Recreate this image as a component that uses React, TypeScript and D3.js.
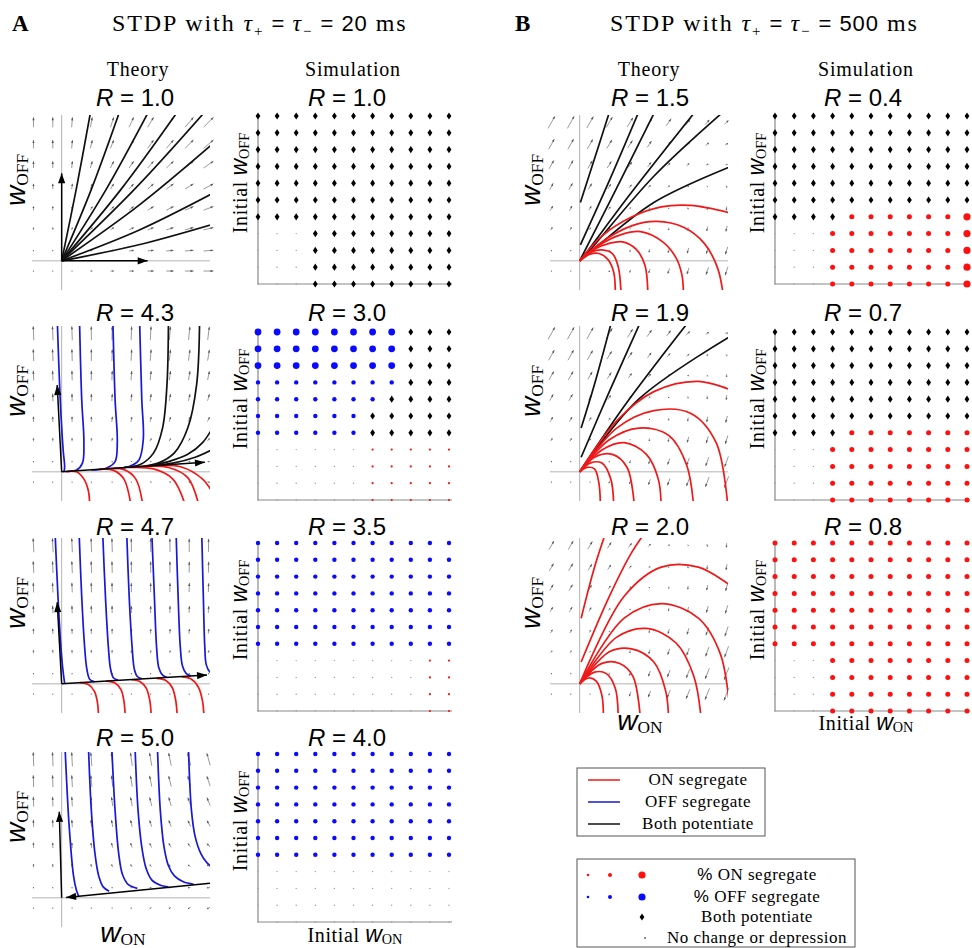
import React from 'react'
import * as d3 from 'd3'

const SERIF = '"Liberation Serif", "DejaVu Serif", serif'
const SANS = '"Liberation Sans", Arial, sans-serif'

// R values shown above each panel
const theoryRA = ['1.0', '4.3', '4.7', '5.0']
const simRA = ['1.0', '3.0', '3.5', '4.0']
const theoryRB = ['1.5', '1.9', '2.0']
const simRB = ['0.4', '0.7', '0.8']

// linear field dw/dt = [[a,b],[c,d]] w used for the small quiver arrows
const fieldA = [
  [1, 0, 0, 1.05],
  [0.153, -0.042, -0.057, 0.997],
  [0.053, -0.048, -0.057, 1.0],
  [-0.197, -0.036, -0.12, 1.0],
]
const fieldB = [
  [-0.2, 0.5, -0.6, 0.9],
  [-0.3, 0.5, -0.8, 0.9],
  [-0.4, 0.4, -1.0, 0.7],
]

// eigenvector arrows [x0, y0, x1, y1], head at (x1, y1)
const eigenA = [
  [[0, 0, 0.58, 0], [0, 0, 0, 0.6]],
  [[0, 0, 0.966, 0.065], [0, 0, -0.03, 0.595]],
  [[0, 0, 0.98, 0.06], [0, 0, -0.03, 0.56]],
  [[1.0, 0.1, 0.03, 0.003], [0, 0, -0.016, 0.59]],
]

type Traj = [string, number[][]]

// trajectories, [colour, [[wON, wOFF], ...]]
const trajA1: Traj[] = [
  ['k', [[0, 0], [0.1, 0.5], [0.2, 1.05]]],
  ['k', [[0, 0], [0.2, 0.49], [0.4, 1.05]]],
  ['k', [[0, 0], [0.3, 0.49], [0.6, 1.05]]],
  ['k', [[0, 0], [0.4, 0.49], [0.8, 1.05]]],
  ['k', [[0, 0], [0.5, 0.5], [0.99, 1.05]]],
  ['k', [[0, 0], [0.52, 0.38], [1.05, 0.83]]],
  ['k', [[0, 0], [0.52, 0.21], [1.05, 0.48]]],
  ['k', [[0, 0], [0.52, 0.11], [1.05, 0.26]]],
]
const trajA2: Traj[] = [
  ['b', [[-0.03, 1.05], [-0.01, 0.5], [0.01, 0.15], [0.02, 0.03], [0.015, 0.001]]],
  ['b', [[0.12, 1.05], [0.135, 0.5], [0.15, 0.2], [0.14, 0.06], [0.1, 0.012], [0.04, 0.003]]],
  ['b', [[0.345, 1.05], [0.36, 0.5], [0.375, 0.2], [0.36, 0.07], [0.3, 0.025], [0.2, 0.013]]],
  ['b', [[0.525, 1.05], [0.54, 0.5], [0.55, 0.22], [0.52, 0.08], [0.45, 0.035], [0.35, 0.023]]],
  ['k', [[0.72, 1.05], [0.71, 0.6], [0.68, 0.3], [0.62, 0.13], [0.53, 0.05], [0.42, 0.03]]],
  ['k', [[0.93, 1.05], [0.91, 0.6], [0.85, 0.3], [0.76, 0.13], [0.65, 0.06], [0.52, 0.035]]],
  ['k', [[1.05, 0.36], [0.95, 0.2], [0.85, 0.12], [0.72, 0.07], [0.6, 0.045]]],
  ['k', [[1.05, 0.17], [0.9, 0.1], [0.75, 0.06], [0.62, 0.045]]],
  ['r', [[0.03, 0.002], [0.1, 0.0], [0.15, -0.05], [0.18, -0.13], [0.19, -0.25]]],
  ['r', [[0.25, 0.017], [0.35, 0.01], [0.42, -0.05], [0.47, -0.25]]],
  ['r', [[0.3, 0.02], [0.42, 0.015], [0.5, -0.05], [0.55, -0.25]]],
  ['r', [[0.45, 0.03], [0.62, 0.02], [0.75, -0.05], [0.84, -0.25]]],
  ['r', [[0.55, 0.037], [0.72, 0.03], [0.85, -0.04], [0.93, -0.25]]],
  ['r', [[0.6, 0.04], [0.8, 0.035], [0.95, -0.05], [1.05, -0.2]]],
]
const trajA3: Traj[] = [
  ['b', [[-0.045, 1.05], [-0.025, 0.6], [-0.005, 0.25], [0.01, 0.08], [0.02, 0.005]]],
  ['b', [[0.117, 1.05], [0.135, 0.6], [0.155, 0.25], [0.17, 0.1], [0.19, 0.03], [0.22, 0.015]]],
  ['b', [[0.276, 1.05], [0.295, 0.6], [0.315, 0.25], [0.33, 0.1], [0.35, 0.04], [0.38, 0.025]]],
  ['b', [[0.438, 1.05], [0.455, 0.6], [0.475, 0.25], [0.49, 0.1], [0.51, 0.05], [0.54, 0.035]]],
  ['b', [[0.607, 1.05], [0.625, 0.6], [0.64, 0.25], [0.655, 0.11], [0.68, 0.06], [0.71, 0.045]]],
  ['b', [[0.771, 1.05], [0.785, 0.6], [0.8, 0.25], [0.815, 0.12], [0.84, 0.07], [0.87, 0.055]]],
  ['b', [[0.944, 1.05], [0.955, 0.6], [0.965, 0.25], [0.975, 0.13], [1.0, 0.08], [1.03, 0.066]]],
  ['r', [[0.12, 0.008], [0.18, -0.005], [0.22, -0.05], [0.24, -0.12], [0.25, -0.25]]],
  ['r', [[0.3, 0.018], [0.36, 0.005], [0.4, -0.04], [0.42, -0.12], [0.43, -0.25]]],
  ['r', [[0.47, 0.028], [0.53, 0.015], [0.57, -0.03], [0.595, -0.12], [0.605, -0.25]]],
  ['r', [[0.64, 0.038], [0.7, 0.025], [0.745, -0.025], [0.77, -0.12], [0.78, -0.25]]],
  ['r', [[0.81, 0.048], [0.87, 0.035], [0.92, -0.02], [0.95, -0.12], [0.96, -0.25]]],
]
const trajA4: Traj[] = [
  ['b', [[0.022, 1.05], [0.05, 0.5], [0.08, 0.15], [0.1, 0.05], [0.115, 0.012]]],
  ['b', [[0.18, 1.05], [0.2, 0.6], [0.225, 0.3], [0.25, 0.15], [0.28, 0.075], [0.32, 0.045]]],
  ['b', [[0.337, 1.05], [0.36, 0.6], [0.385, 0.3], [0.41, 0.16], [0.45, 0.09], [0.51, 0.065]]],
  ['b', [[0.494, 1.05], [0.515, 0.6], [0.54, 0.35], [0.57, 0.2], [0.61, 0.12], [0.67, 0.085], [0.72, 0.076]]],
  ['b', [[0.645, 1.05], [0.665, 0.6], [0.69, 0.35], [0.72, 0.22], [0.76, 0.15], [0.82, 0.11], [0.89, 0.093]]],
  ['b', [[0.854, 1.05], [0.875, 0.6], [0.9, 0.42], [0.94, 0.3], [0.98, 0.24], [1.03, 0.2]]],
]
const trajB1: Traj[] = [
  ['k', [[0.005, 0.4], [0.1, 0.7], [0.21, 1.05]]],
  ['k', [[0.005, 0.11], [0.2, 0.55], [0.41, 1.05]]],
  ['k', [[0, 0], [0.25, 0.5], [0.52, 1.05]]],
  ['k', [[0, 0], [0.04, 0.05], [0.35, 0.47], [0.8, 1.05]]],
  ['k', [[0, 0], [0.05, 0.05], [0.5, 0.58], [1.0, 1.05]]],
  ['k', [[0, 0], [0.05, 0.04], [0.5, 0.4], [1.05, 0.66]]],
  ['r', [[0, 0], [0.15, 0.17], [0.35, 0.3], [0.55, 0.37], [0.75, 0.38], [1.05, 0.32]]],
  ['r', [[0, 0], [0.15, 0.13], [0.35, 0.24], [0.52, 0.27], [0.7, 0.23], [0.84, 0.12], [0.93, -0.05], [0.97, -0.25]]],
  ['r', [[0, 0], [0.12, 0.1], [0.28, 0.18], [0.41, 0.2], [0.56, 0.13], [0.65, 0.02], [0.69, -0.1], [0.7, -0.25]]],
  ['r', [[0, 0], [0.1, 0.08], [0.2, 0.12], [0.29, 0.13], [0.38, 0.08], [0.44, -0.03], [0.46, -0.25]]],
  ['r', [[0, 0], [0.08, 0.06], [0.15, 0.075], [0.22, 0.05], [0.26, -0.04], [0.28, -0.25]]],
  ['r', [[0, 0], [0.07, 0.045], [0.13, 0.05], [0.19, 0.01], [0.23, -0.08], [0.24, -0.25]]],
]
const trajB2: Traj[] = [
  ['k', [[0.01, 0.3], [0.1, 0.6], [0.22, 1.05]]],
  ['k', [[0.01, 0.1], [0.2, 0.55], [0.42, 1.05]]],
  ['k', [[0, 0], [0.3, 0.45], [0.75, 1.05]]],
  ['k', [[0, 0], [0.4, 0.5], [1.05, 0.95]]],
  ['r', [[0, 0], [0.25, 0.35], [0.5, 0.55], [0.8, 0.62], [1.05, 0.55]]],
  ['r', [[0, 0], [0.25, 0.3], [0.5, 0.42], [0.75, 0.4], [0.92, 0.2], [1.0, -0.25]]],
  ['r', [[0, 0], [0.2, 0.22], [0.4, 0.3], [0.6, 0.25], [0.72, 0.05], [0.77, -0.25]]],
  ['r', [[0, 0], [0.15, 0.15], [0.3, 0.2], [0.45, 0.12], [0.53, -0.05], [0.55, -0.25]]],
  ['r', [[0, 0], [0.1, 0.1], [0.22, 0.12], [0.32, 0.03], [0.37, -0.25]]],
  ['r', [[0, 0], [0.07, 0.06], [0.15, 0.06], [0.21, -0.05], [0.23, -0.25]]],
  ['r', [[0, 0], [0.05, 0.03], [0.1, 0.02], [0.13, -0.08], [0.14, -0.25]]],
]
const trajB3: Traj[] = [
  ['r', [[0.01, 0.45], [0.1, 0.8], [0.18, 1.05]]],
  ['r', [[0.01, 0.15], [0.2, 0.6], [0.35, 0.9], [0.45, 1.05]]],
  ['r', [[0, 0], [0.3, 0.6], [0.55, 0.8], [0.8, 0.8], [1.05, 0.65]]],
  ['r', [[0, 0], [0.3, 0.45], [0.55, 0.55], [0.8, 0.45], [0.95, 0.2], [1.02, -0.25]]],
  ['r', [[0, 0], [0.25, 0.32], [0.45, 0.38], [0.65, 0.28], [0.77, 0.05], [0.82, -0.25]]],
  ['r', [[0, 0], [0.2, 0.22], [0.35, 0.24], [0.5, 0.15], [0.58, -0.05], [0.6, -0.25]]],
  ['r', [[0, 0], [0.15, 0.14], [0.27, 0.14], [0.36, 0.05], [0.41, -0.25]]],
  ['r', [[0, 0], [0.1, 0.08], [0.18, 0.07], [0.24, -0.03], [0.26, -0.25]]],
  ['r', [[0, 0], [0.06, 0.04], [0.11, 0.02], [0.15, -0.08], [0.16, -0.25]]],
]

// simulation outcomes on the 11 x 11 grid of initial weights, top row first
// k both potentiate, B/b blue large/medium, R/r/s red large/medium/small, . no change
const simA1 = ['kkkkkkkkkkk', 'kkkkkkkkkkk', 'kkkkkkkkkkk', 'kkkkkkkkkkk', 'kkkkkkkkkkk', 'kkkkkkkkkkk', 'kkkkkkkkkkk', '...kkkkkkkk', '...kkkkkkkk', '...kkkkkkkk', '...kkkkkkkk']
const simA2 = ['BBBBBBBBkkk', 'BBBBBBBBkkk', 'BBBBBBBBkkk', 'bbbbbbbbkkk', 'bbbbbbbkkkk', 'bbbbbbkkkkk', 'bbbbbbkkkkk', '......sssss', '......sssss', '......sssss', '......sssss']
const simA3 = ['bbbbbbbbbbb', 'bbbbbbbbbbb', 'bbbbbbbbbbb', 'bbbbbbbbbbb', 'bbbbbbbbbbb', 'bbbbbbbbbbb', 'bbbbbbbbbbb', '.........ss', '.........ss', '.........ss', '.........ss']
const simA4 = ['bbbbbbbbbbb', 'bbbbbbbbbbb', 'bbbbbbbbbbb', 'bbbbbbbbbbb', 'bbbbbbbbbbb', 'bbbbbbbbbbb', 'bbbbbbbbbbb', '...........', '...........', '...........', '...........']
const simB1 = ['kkkkkkkkkkk', 'kkkkkkkkkkk', 'kkkkkkkkkkk', 'kkkkkkkkkkk', 'kkkkkkkkkkk', 'kkkkkkkkkkk', 'kkkkrrrrrrR', '...rrrrrrrR', '...rrrrrrrR', '...rrrrrrrR', '...rrrrrrrR']
const simB2 = ['kkkkkkkkkkk', 'kkkkkkkkkkk', 'kkkkkkkkkkk', 'kkkkkkkkkkk', 'kkkkkkkkkkk', 'kkkkkkkkkkk', 'kkkkrrrrrrr', '...rrrrrrrr', '...rrrrrrrr', '...rrrrrrrr', '...rrrrrrrr']
const simB3 = ['rrrrrrrrrrr', 'rrrrrrrrrrr', 'rrrrrrrrrrr', 'rrrrrrrrrrr', 'rrrrrrrrrrr', 'rrrrrrrrrrr', 'rrrrrrrrrrr', '...rrrrrrrr', '...rrrrrrrr', '...rrrrrrrr', '...rrrrrrrr']

const legendLines = ['ON segregate', 'OFF segregate', 'Both potentiate']

const COL: Record<string, string> = { k: '#111', b: '#1818d8', r: '#f01818' }
const PW = 178
const PH = 175
const qx = [-0.19, -0.06, 0.07, 0.2, 0.34, 0.47, 0.6, 0.73, 0.86, 0.99]
const qy = [-0.07, 0.07, 0.22, 0.36, 0.51, 0.66, 0.8, 0.95]

const rows = [
  { label: 106, theory: 115, sim: 116 },
  { label: 321, theory: 326, sim: 332 },
  { label: 535, theory: 538, sim: 543 },
  { label: 746, theory: 752, sim: 754 },
]

function head(x1: number, y1: number, x2: number, y2: number, hl: number, hw: number) {
  const dx = x2 - x1, dy = y2 - y1, L = Math.hypot(dx, dy)
  if (L < 0.01) return ''
  const ux = dx / L, uy = dy / L
  const bx = x2 - ux * hl, by = y2 - uy * hl
  return `M${x2},${y2}L${bx - uy * hw},${by + ux * hw}L${bx + uy * hw},${by - ux * hw}Z`
}

function Subscripted({ main, sub, size }: { main: string; sub: string; size: number }) {
  return (
    <>
      <tspan fontFamily={SANS} fontStyle="italic" fontSize={size}>{main}</tspan>
      <tspan fontFamily={SERIF} fontSize={size * 0.62} dy={size * 0.1}>{sub}</tspan>
    </>
  )
}

function TheoryPanel({ id, x0, top, labelX, field, eigen, traj }: { id: string; x0: number; top: number; labelX: number; field: number[]; eigen: number[][]; traj: Traj[] }) {
  const x = d3.scaleLinear([-0.2, 1], [x0, x0 + PW])
  const y = d3.scaleLinear([-0.2, 1], [top + PH, top])
  const line = d3.line<number[]>().x(d => x(d[0])).y(d => y(d[1])).curve(d3.curveCatmullRom.alpha(0.5))
  const [a, b, c, d] = field
  // weights below zero are clamped when the drift is evaluated
  const vecs = qx.flatMap(gx => qy.map(gy => {
    const px = Math.max(gx, 0), py = Math.max(gy, 0)
    return { gx, gy, u: a * px + b * py, v: c * px + d * py }
  }))
  const maxM = d3.max(vecs, q => Math.hypot(q.u, q.v)) || 1
  const k = 14 / maxM
  return (
    <g>
      <defs>
        <clipPath id={id}><rect x={x0} y={top} width={PW} height={PH} /></clipPath>
      </defs>
      <line x1={x(0)} x2={x(0)} y1={top} y2={top + PH} stroke="#b4b4b4" strokeWidth={1} />
      <line x1={x0} x2={x0 + PW} y1={y(0)} y2={y(0)} stroke="#b4b4b4" strokeWidth={1} />
      <g stroke="#555" fill="#555">
        {vecs.map((q, i) => {
          const cx = x(q.gx), cy = y(q.gy)
          const du = q.u * k, dv = -q.v * k
          const L = Math.hypot(du, dv)
          const x1 = cx - du / 2, y1 = cy - dv / 2, x2 = cx + du / 2, y2 = cy + dv / 2
          return (
            <g key={i}>
              {L < 1.2 ? <circle cx={cx} cy={cy} r={0.6} stroke="none" /> : (
                <>
                  <line x1={x1} y1={y1} x2={x2} y2={y2} strokeWidth={0.6} />
                  <path d={head(x1, y1, x2, y2, Math.min(3, L * 0.4), 1.1)} stroke="none" />
                </>
              )}
            </g>
          )
        })}
      </g>
      <g clipPath={`url(#${id})`} fill="none" strokeWidth={1.7}>
        {traj.map((t, i) => <path key={i} d={line(t[1]) || ''} stroke={COL[t[0]]} />)}
      </g>
      {eigen.map((e, i) => {
        const x1 = x(e[0]), y1 = y(e[1]), x2 = x(e[2]), y2 = y(e[3])
        return (
          <g key={i}>
            <line x1={x1} y1={y1} x2={x2} y2={y2} stroke="#000" strokeWidth={1.5} />
            <path d={head(x1, y1, x2, y2, 10, 3.6)} fill="#000" />
          </g>
        )
      })}
      <text transform={`translate(${labelX},${top + 65}) rotate(-90)`} textAnchor="middle">
        <Subscripted main="w" sub="OFF" size={28} />
      </text>
    </g>
  )
}

function Dot({ code, cx, cy }: { code: string; cx: number; cy: number }) {
  if (code === 'k') return <path d={`M${cx},${cy - 3.6}L${cx + 2.4},${cy}L${cx},${cy + 3.6}L${cx - 2.4},${cy}Z`} fill="#000" />
  if (code === '.') return <circle cx={cx} cy={cy} r={0.7} fill="#999" />
  const r = { B: 3.4, b: 2.2, R: 3.6, r: 2.5, s: 1.1 }[code] || 1
  const fill = code === 'B' || code === 'b' ? '#0a0aff' : '#ff1010'
  return <circle cx={cx} cy={cy} r={r} fill={fill} />
}

function SimPanel({ x0, top, dx, grid }: { x0: number; top: number; dx: number; grid: string[] }) {
  const x = d3.scaleLinear([0, 10], [x0, x0 + 10 * dx])
  const y = d3.scaleLinear([0, 10], [top, top + 10 * 16.8])
  return (
    <g>
      <path d={`M${x(0)},${y(0) - 2}V${y(10)}H${x(10) + 3}`} fill="none" stroke="#8a8a8a" strokeWidth={1.2} />
      {grid.map((row, j) => row.split('').map((code, i) => <Dot key={`${j}-${i}`} code={code} cx={x(i)} cy={y(j)} />))}
      <text transform={`translate(${x0 - 11},${top + 67}) rotate(-90)`} textAnchor="middle">
        <tspan fontFamily={SERIF} fontSize={20} letterSpacing={0.6}>Initial </tspan>
        <Subscripted main="w" sub="OFF" size={23} />
      </text>
    </g>
  )
}

function RLabel({ cx, y, value }: { cx: number; y: number; value: string }) {
  return (
    <text x={cx} y={y} textAnchor="middle" fontFamily={SANS} fontSize={24}>
      <tspan fontStyle="italic">R</tspan> = {value}
    </text>
  )
}

function Title({ x, letter, lx, ms }: { x: number; letter: string; lx: number; ms: string }) {
  return (
    <>
      <text x={lx} y={31} fontFamily={SERIF} fontWeight="bold" fontSize={23}>{letter}</text>
      <text x={x} y={31} fontFamily={SERIF} fontSize={24} letterSpacing={1.9}>
        STDP with <tspan fontStyle="italic">τ</tspan>
        <tspan fontSize={15} dy={5}>+</tspan>
        <tspan fontFamily={SANS} fontSize={22} dy={-5} letterSpacing={1}> = </tspan>
        <tspan fontStyle="italic">τ</tspan>
        <tspan fontSize={15} dy={5}>−</tspan>
        <tspan fontFamily={SANS} fontSize={22} dy={-5} letterSpacing={1}> = {ms}</tspan> ms
      </text>
    </>
  )
}

export default function App() {
  const theoryA = [trajA1, trajA2, trajA3, trajA4]
  const theoryB = [trajB1, trajB2, trajB3]
  const simA = [simA1, simA2, simA3, simA4]
  const simB = [simB1, simB2, simB3]
  return (
    <svg width={972} height={948} style={{ position: 'absolute', left: 0, top: 0, background: '#fff' }}>
      <Title letter="A" lx={12} x={112} ms="20" />
      <Title letter="B" lx={515} x={610} ms="500" />
      <g fontFamily={SERIF} fontSize={20} textAnchor="middle" letterSpacing={0.8}>
        <text x={138} y={76}>Theory</text>
        <text x={353} y={76}>Simulation</text>
        <text x={649} y={76}>Theory</text>
        <text x={866} y={76}>Simulation</text>
      </g>
      {theoryA.map((t, i) => (
        <g key={`ta${i}`}>
          <RLabel cx={135} y={rows[i].label} value={theoryRA[i]} />
          <TheoryPanel id={`clipA${i}`} x0={32} top={rows[i].theory} labelX={25} field={fieldA[i]} eigen={eigenA[i]} traj={t} />
        </g>
      ))}
      {simA.map((g, i) => (
        <g key={`sa${i}`}>
          <RLabel cx={347} y={rows[i].label} value={simRA[i]} />
          <SimPanel x0={258} top={rows[i].sim} dx={19.1} grid={g} />
        </g>
      ))}
      {theoryB.map((t, i) => (
        <g key={`tb${i}`}>
          <RLabel cx={650} y={rows[i].label} value={theoryRB[i]} />
          <TheoryPanel id={`clipB${i}`} x0={550} top={rows[i].theory} labelX={540} field={fieldB[i]} eigen={[]} traj={t} />
        </g>
      ))}
      {simB.map((g, i) => (
        <g key={`sb${i}`}>
          <RLabel cx={863} y={rows[i].label} value={simRB[i]} />
          <SimPanel x0={775} top={rows[i].sim} dx={19.2} grid={g} />
        </g>
      ))}
      <text x={123} y={942} textAnchor="middle"><Subscripted main="w" sub="ON" size={28} /></text>
      <text x={355} y={942} textAnchor="middle">
        <tspan fontFamily={SERIF} fontSize={20} letterSpacing={0.6}>Initial </tspan><Subscripted main="w" sub="ON" size={23} />
      </text>
      <text x={640} y={730} textAnchor="middle"><Subscripted main="w" sub="ON" size={28} /></text>
      <text x={866} y={730} textAnchor="middle">
        <tspan fontFamily={SERIF} fontSize={20} letterSpacing={0.6}>Initial </tspan><Subscripted main="w" sub="ON" size={23} />
      </text>

      <rect x={577} y={768} width={188} height={68} fill="none" stroke="#555" strokeWidth={1} />
      {legendLines.map((t, i) => (
        <g key={t}>
          <line x1={588} x2={620} y1={780 + i * 22} y2={780 + i * 22} stroke={[COL.r, COL.b, COL.k][i]} strokeWidth={1.5} />
          <text x={698} y={785 + i * 22} textAnchor="middle" fontFamily={SERIF} fontSize={17} letterSpacing={0.5}>{t}</text>
        </g>
      ))}
      <rect x={577} y={859} width={278} height={88} fill="none" stroke="#555" strokeWidth={1} />
      <circle cx={588} cy={875} r={1.3} fill="#ff1010" />
      <circle cx={610} cy={875} r={2} fill="#ff1010" />
      <circle cx={642} cy={875} r={3.6} fill="#ff1010" />
      <circle cx={588} cy={897} r={1.3} fill="#0a0aff" />
      <circle cx={610} cy={897} r={2} fill="#0a0aff" />
      <circle cx={642} cy={897} r={3.6} fill="#0a0aff" />
      <Dot code="k" cx={642} cy={917} />
      <circle cx={645} cy={938} r={0.9} fill="#555" />
      <g fontFamily={SERIF} fontSize={17} textAnchor="middle" letterSpacing={0.5}>
        <text x={757} y={880}><tspan fontFamily={SANS}>%</tspan> ON segregate</text>
        <text x={757} y={902}><tspan fontFamily={SANS}>%</tspan> OFF segregate</text>
        <text x={757} y={922}>Both potentiate</text>
        <text x={757} y={943}>No change or depression</text>
      </g>
    </svg>
  )
}
